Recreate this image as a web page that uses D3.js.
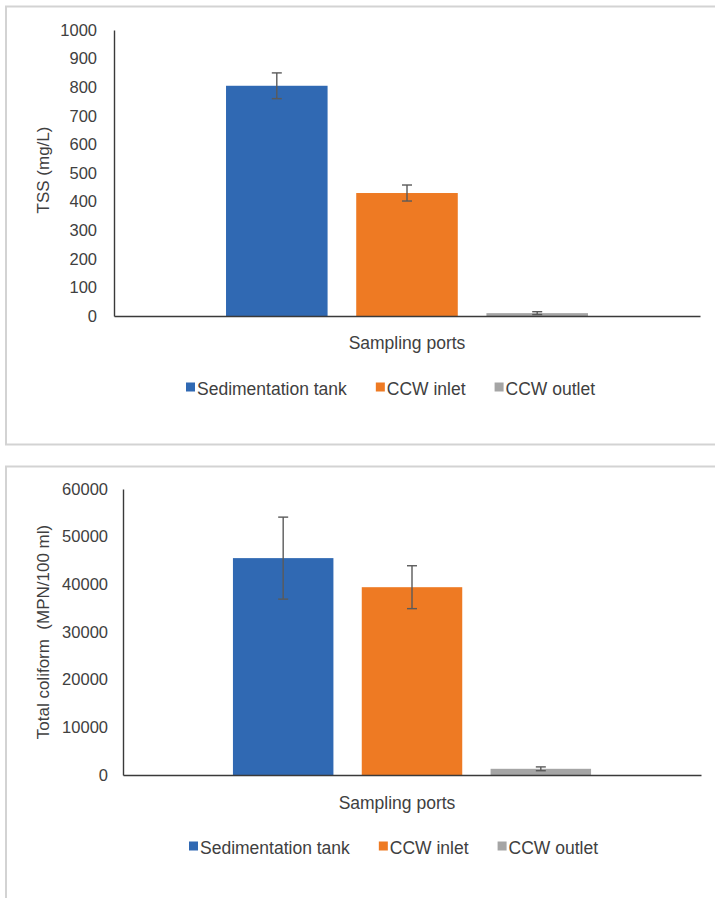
<!DOCTYPE html>
<html>
<head>
<meta charset="utf-8">
<script src="https://cdn.jsdelivr.net/npm/d3@7"></script>
<style>
  html, body { margin: 0; padding: 0; background: #fff; }
  svg { display: block; font-family: "Liberation Sans", Arial, sans-serif; }
</style>
</head>
<body>
<svg id="chart" width="715" height="898"></svg>
<script>
// ---- data ----
const category = ["Sampling ports"];
const series = ["Sedimentation tank", "CCW inlet", "CCW outlet"];
const colors = ["#3069B3", "#EE7A23", "#A5A5A5"];

const tssValues = [805, 430, 10];
const tssErrors = [45, 28, 5];
const tssTicks = [0, 100, 200, 300, 400, 500, 600, 700, 800, 900, 1000];

const coliformValues = [45500, 39400, 1300];
const coliformErrors = [8600, 4500, 400];
const coliformTicks = [0, 10000, 20000, 30000, 40000, 50000, 60000];

const svg = d3.select("#chart");

// panel frames
svg.append("rect").attr("x", 6).attr("y", 6.5).attr("width", 730).attr("height", 438)
  .attr("fill", "none").attr("stroke", "#d3d3d3").attr("stroke-width", 2);
svg.append("rect").attr("x", 6).attr("y", 466.5).attr("width", 730).attr("height", 460)
  .attr("fill", "none").attr("stroke", "#d3d3d3").attr("stroke-width", 2);

function drawChart(cfg) {
  const g = svg.append("g");
  const y = d3.scaleLinear().domain([0, cfg.ticks[cfg.ticks.length - 1]]).range([cfg.y0, cfg.y1]);
  const x0 = d3.scaleBand().domain(category).range([cfg.xL, cfg.xR]).paddingInner(0).paddingOuter(cfg.outer);
  const x1 = d3.scaleBand().domain(series).range([0, x0.bandwidth()]).paddingInner(0.22).paddingOuter(0);

  // bars
  series.forEach((s, i) => {
    const bx = x0(category[0]) + x1(s);
    g.append("rect")
      .attr("x", bx).attr("y", y(cfg.values[i]))
      .attr("width", x1.bandwidth()).attr("height", y(0) - y(cfg.values[i]))
      .attr("fill", colors[i]);
  });

  // error bars
  series.forEach((s, i) => {
    const cx = x0(category[0]) + x1(s) + x1.bandwidth() / 2;
    const hi = y(cfg.values[i] + cfg.errors[i]);
    const lo = y(cfg.values[i] - cfg.errors[i]);
    const eg = g.append("g").attr("stroke", "#5a5a5a").attr("stroke-width", 1.4);
    eg.append("line").attr("x1", cx).attr("x2", cx).attr("y1", hi).attr("y2", lo);
    eg.append("line").attr("x1", cx - 5).attr("x2", cx + 5).attr("y1", hi).attr("y2", hi);
    eg.append("line").attr("x1", cx - 5).attr("x2", cx + 5).attr("y1", lo).attr("y2", lo);
  });

  // y axis
  const yAxis = d3.axisLeft(y).tickValues(cfg.ticks).tickSize(0).tickPadding(cfg.tickPad).tickFormat(d3.format("d"));
  const ya = g.append("g").attr("transform", `translate(${cfg.xL},0)`).call(yAxis);
  ya.select(".domain").attr("stroke", "#3a3a3a").attr("stroke-width", 1.4);
  ya.selectAll("text").attr("font-size", 16.5).attr("fill", "#404040")
    .attr("font-family", "Liberation Sans, Arial, sans-serif");

  // x axis
  const xAxis = d3.axisBottom(x0).tickSize(0).tickFormat("");
  const xa = g.append("g").attr("transform", `translate(0,${cfg.y0})`).call(xAxis);
  xa.select(".domain").attr("stroke", "#3a3a3a").attr("stroke-width", 1.4);

  // titles
  g.append("text").attr("x", cfg.xTitleX).attr("y", cfg.xTitleY)
    .attr("text-anchor", "middle").attr("font-size", 17.5).attr("fill", "#404040").text(category[0]);
  g.append("text")
    .attr("transform", `translate(${cfg.yTitleX},${cfg.yTitleY}) rotate(-90)`)
    .attr("text-anchor", "middle").attr("font-size", 17).attr("fill", "#404040")
    .attr("xml:space", "preserve").style("white-space", "pre")
    .text(cfg.yTitle);

  // legend
  let lx = cfg.legX;
  series.forEach((s, i) => {
    g.append("rect").attr("x", lx).attr("y", cfg.legY - 12.5).attr("width", 9).attr("height", 9).attr("fill", colors[i]);
    const t = g.append("text").attr("x", lx + 11).attr("y", cfg.legY)
      .attr("font-size", 17.5).attr("fill", "#404040").text(s);
    lx += 11 + t.node().getComputedTextLength() + 29;
  });
}

drawChart({
  values: tssValues, errors: tssErrors, ticks: tssTicks,
  xL: 114, xR: 700, y0: 316, y1: 30, outer: 0.3095, tickPad: 17,
  xTitleX: 407, xTitleY: 349, yTitleX: 49, yTitleY: 170, yTitle: "TSS (mg/L)",
  legX: 186, legY: 395
});

drawChart({
  values: coliformValues, errors: coliformErrors, ticks: coliformTicks,
  xL: 123, xR: 701, y0: 775, y1: 489, outer: 0.307, tickPad: 15,
  xTitleX: 397, xTitleY: 809, yTitleX: 49, yTitleY: 632, yTitle: "Total coliform  (MPN/100 ml)",
  legX: 189, legY: 854
});
</script>
</body>
</html>
